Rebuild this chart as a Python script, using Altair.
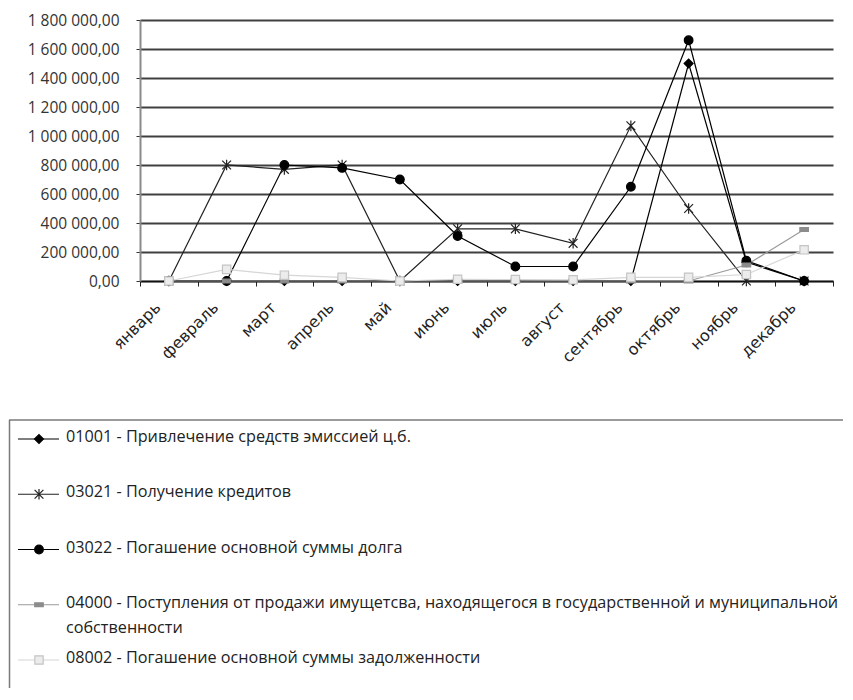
import altair as alt
import pandas as pd

months = ["январь", "февраль", "март", "апрель", "май", "июнь",
          "июль", "август", "сентябрь", "октябрь", "ноябрь", "декабрь"]

series = [
    "01001 - Привлечение средств эмиссией ц.б.",
    "03021 - Получение кредитов",
    "03022 - Погашение основной суммы долга",
    "04000 - Поступления от продажи имущетсва, находящегося в государственной и муниципальной собственности",
    "08002 - Погашение основной суммы задолженности",
]

v01001 = [0, 0, 0, 0, 0, 0, 0, 0, 0, 1500000, 130000, 0]
v03021 = [0, 800000, 770000, 800000, 0, 360000, 360000, 260000, 1070000, 500000, 0, 0]
v03022 = [0, 0, 800000, 780000, 700000, 310000, 100000, 100000, 650000, 1660000, 140000, 0]
v04000 = [0, 0, 0, 0, 0, 0, 0, 0, 0, 0, 110000, 355000]
v08002 = [0, 80000, 40000, 25000, 0, 12000, 10000, 8000, 25000, 25000, 45000, 215000]

y_ticks = [0, 200000, 400000, 600000, 800000, 1000000, 1200000, 1400000, 1600000, 1800000]

line_colors = ["#000000", "#222222", "#000000", "#9a9a9a", "#d6d6d6"]
fill_colors = ["#000000", "#222222", "#000000", "#8c8c8c", "#ececec"]
stroke_colors = ["#000000", "#222222", "#000000", "#8c8c8c", "#c4c4c4"]
asterisk = "M-1,-1L1,1M1,-1L-1,1M0,-1.2L0,1.2"
bar = "M-1,-0.45L1,-0.45L1,0.45L-1,0.45Z"
shapes = ["diamond", asterisk, "circle", bar, "square"]
sizes = [80, 70, 130, 80, 110]
widths = [1.2, 1.2, 1.2, 1.6, 1.4]

FONT = "Open Sans"

rows = []
for s, vals in zip(series, [v01001, v03021, v03022, v04000, v08002]):
    for m, v in zip(months, vals):
        rows.append({"month": m, "series": s, "value": v})
df = pd.DataFrame(rows)

leg = pd.DataFrame({
    "series": series,
    "row": list(range(len(series))),
    "label": [s.replace(" муниципальной ", " муниципальной\n") for s in series],
})

color_sc = alt.Scale(domain=series, range=line_colors)
fill_sc = alt.Scale(domain=series, range=fill_colors)
stroke_sc = alt.Scale(domain=series, range=stroke_colors)
shape_sc = alt.Scale(domain=series, range=shapes)
size_sc = alt.Scale(domain=series, range=sizes)
width_sc = alt.Scale(domain=series, range=widths)

x_enc = alt.X(
    "month:N", sort=months, title=None,
    scale=alt.Scale(type="band", paddingInner=0, paddingOuter=0),
    axis=alt.Axis(tickBand="extent", labelAngle=-45, labelFont="DejaVu Sans", labelFontSize=16,
                  labelColor="#222222", labelPadding=13, labelOffset=-17,
                  tickSize=5, tickColor="#222222", domainColor="#111111",
                  domainWidth=1.5, grid=False, labelOverlap=False),
)
y_scale = alt.Scale(domain=[0, 1800000], nice=False, zero=True)
y_enc = alt.Y(
    "value:Q", scale=y_scale, title=None,
    axis=alt.Axis(values=y_ticks, format=",.2f", labelFont=FONT, labelFontSize=15.5,
                  labelColor="#333333", labelPadding=17, tickSize=4, tickColor="#333333",
                  domainColor="#8a8a8a", domainWidth=2, grid=True, gridColor="#404040",
                  gridWidth=2),
)

base = alt.Chart(df)
lines = base.mark_line(clip=False).encode(
    x=x_enc, y=y_enc,
    color=alt.Color("series:N", scale=color_sc, legend=None),
    strokeWidth=alt.StrokeWidth("series:N", scale=width_sc, legend=None),
    detail="series:N",
)
points = base.mark_point(filled=True, opacity=1, strokeWidth=1.2).encode(
    x=alt.X("month:N", sort=months),
    y=alt.Y("value:Q", scale=y_scale, axis=None),
    fill=alt.Fill("series:N", scale=fill_sc, legend=None),
    stroke=alt.Stroke("series:N", scale=stroke_sc, legend=None),
    shape=alt.Shape("series:N", scale=shape_sc, legend=None),
    size=alt.Size("series:N", scale=size_sc, legend=None),
)

leg_y = alt.Scale(domain=[0, 4], range=[419, 640])
lb = alt.Chart(leg)
leg_lines = lb.mark_rule().encode(
    x=alt.value(-122), x2=alt.value(-81),
    y=alt.Y("row:Q", scale=leg_y, axis=None),
    color=alt.Color("series:N", scale=color_sc, legend=None),
    strokeWidth=alt.StrokeWidth("series:N", scale=width_sc, legend=None),
)
leg_pts = lb.mark_point(filled=True, opacity=1, strokeWidth=1.2).encode(
    x=alt.value(-101),
    y=alt.Y("row:Q", scale=leg_y, axis=None),
    fill=alt.Fill("series:N", scale=fill_sc, legend=None),
    stroke=alt.Stroke("series:N", scale=stroke_sc, legend=None),
    shape=alt.Shape("series:N", scale=shape_sc, legend=None),
    size=alt.Size("series:N", scale=size_sc, legend=None),
)
leg_text = lb.mark_text(align="left", baseline="top", dy=-10, font=FONT, fontSize=16.2,
                        color="#222222", lineBreak="\n", lineHeight=25).encode(
    x=alt.value(-74),
    y=alt.Y("row:Q", scale=leg_y, axis=None),
    text="label:N",
)
one = alt.Chart(pd.DataFrame({"k": [0]}))
box_top = one.mark_rule(color="#7a7a7a", strokeWidth=1.5).encode(
    x=alt.value(-131), x2=alt.value(703), y=alt.value(400))
box_left = one.mark_rule(color="#7a7a7a", strokeWidth=1.5).encode(
    x=alt.value(-130.5), y=alt.value(400), y2=alt.value(668))

chart = alt.layer(
    lines, points, leg_lines, leg_pts, leg_text, box_top, box_left
).resolve_scale(y="independent").properties(
    width=693, height=261,
    padding={"left": 0, "top": 5, "right": 0, "bottom": 0},
).configure(
    locale={"number": {"decimal": ",", "thousands": " ", "grouping": [3], "currency": ["", ""]}}
).configure_view(stroke="transparent")

chart.save("out.html", embed_options={"renderer": "svg", "actions": False})
